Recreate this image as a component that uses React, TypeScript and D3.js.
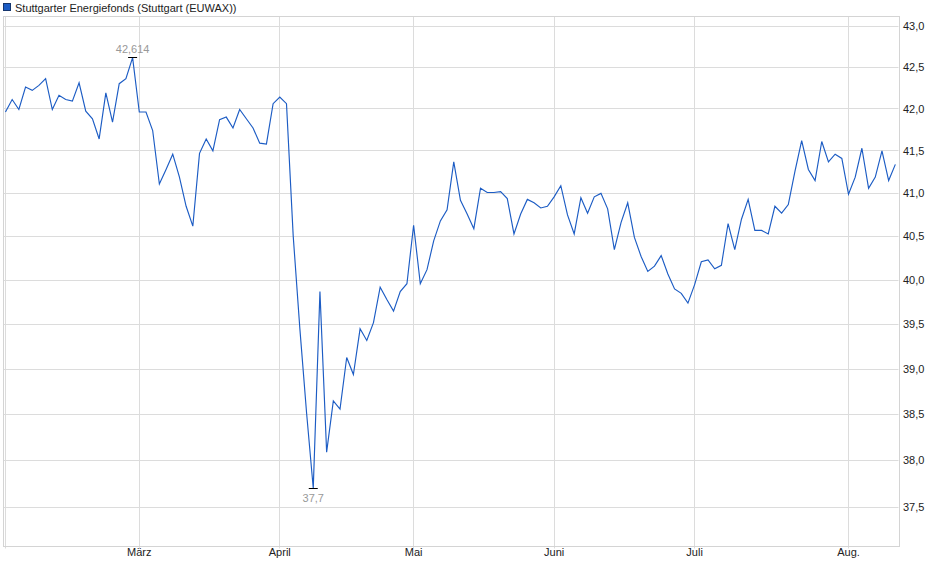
import * as d3 from "d3";

const width = 940;
const height = 579;

// plot frame
const left = 3;
const right = 898.5;
const top = 16;
const bottom = 545.5;

const title = "Stuttgarter Energiefonds (Stuttgart (EUWAX))";

// one value per trading day, Feb 3 .. Aug 12
const prices = [
    41.96, 42.11, 41.99, 42.26, 42.22, 42.28, 42.36, 41.99, 42.16, 42.11,
    42.09, 42.31, 41.97, 41.88, 41.64, 42.19, 41.84, 42.30, 42.36, 42.614,
    41.96, 41.96, 41.74, 41.11, 41.28, 41.46, 41.19, 40.85, 40.62, 41.47,
    41.64, 41.50, 41.87, 41.90, 41.77, 41.99, 41.88, 41.77, 41.59, 41.58,
    42.06, 42.14, 42.06, 40.51, 39.45, 38.52, 37.70, 39.87, 38.09, 38.65,
    38.56, 39.13, 38.94, 39.45, 39.32, 39.52, 39.92, 39.78, 39.65, 39.87,
    39.96, 40.63, 39.96, 40.12, 40.45, 40.68, 40.81, 41.37, 40.92, 40.76,
    40.59, 41.06, 41.01, 41.01, 41.02, 40.94, 40.53, 40.76, 40.93, 40.89,
    40.83, 40.85, 40.96, 41.09, 40.75, 40.53, 40.95, 40.77, 40.96, 41.00,
    40.82, 40.35, 40.66, 40.89, 40.49, 40.27, 40.10, 40.16, 40.28, 40.07,
    39.90, 39.85, 39.74, 39.95, 40.21, 40.23, 40.13, 40.17, 40.65, 40.35,
    40.70, 40.93, 40.57, 40.57, 40.53, 40.85, 40.77, 40.87, 41.26, 41.62,
    41.28, 41.15, 41.61, 41.37, 41.46, 41.41, 40.99, 41.19, 41.53, 41.06,
    41.19, 41.50, 41.15, 41.34,
];

// first trading day of each month (index into prices)
const monthIndex = [0, 20, 41, 61, 82, 103, 126];
const monthLabels = ["", "März", "April", "Mai", "Juni", "Juli", "Aug."];

const yTicks = [37.5, 38, 38.5, 39, 39.5, 40, 40.5, 41, 41.5, 42, 42.5, 43];

const highValue = 42.614;
const highLabel = "42,614";
const lowValue = 37.7;
const lowLabel = "37,7";

const font = "'Liberation Sans', Arial, sans-serif";

export default function App() {
    const x = d3.scaleLinear()
        .domain([-0.37, 133.47])
        .range([left, right]);

    const y = d3.scaleLog()
        .domain([37.5, 43])
        .range([507, 26]);

    const line = d3.line<number>()
        .x((_, i) => x(i))
        .y((d) => y(d));

    const crisp = (v: number) => Math.round(v - 0.5) + 0.5;

    const hiIdx = prices.indexOf(highValue);
    const loIdx = prices.indexOf(lowValue);

    return (
        <svg width={width} height={height}
            style={{ position: "absolute", left: 0, top: 0, background: "white" }}
            fontFamily={font} fontSize={11}>
            {/* legend */}
            <rect x={3.5} y={3.5} width={7} height={7} fill="#1c5cc4" stroke="#16366e" />
            <text x={15} y={12} fill="#222">{title}</text>

            {/* horizontal grid */}
            {yTicks.map((t) => (
                <line key={"h" + t} x1={left} x2={right} y1={crisp(y(t))} y2={crisp(y(t))}
                    stroke="#dcdcdc" />
            ))}
            {/* vertical grid + ticks */}
            {monthIndex.map((m) => (
                <line key={"v" + m} x1={crisp(x(m))} x2={crisp(x(m))} y1={top} y2={bottom + 3}
                    stroke="#dcdcdc" />
            ))}
            {/* frame */}
            <rect x={crisp(left)} y={crisp(top)} width={Math.round(right - left)} height={Math.round(bottom - top)}
                fill="none" stroke="#d4d4d4" />

            {/* y labels */}
            {yTicks.map((t) => (
                <text key={"yl" + t} x={903} y={y(t)} dy="0.35em" fill="#222">
                    {d3.format(".1f")(t).replace(".", ",")}
                </text>
            ))}
            {/* month labels */}
            {monthIndex.map((m, i) => (
                <text key={"ml" + m} x={x(m)} y={556} textAnchor="middle" fill="#222">
                    {monthLabels[i]}
                </text>
            ))}

            {/* price line */}
            <path d={line(prices) ?? ""} fill="none" stroke="#1c5cc4" strokeWidth={1.15}
                strokeLinejoin="miter" />

            {/* high marker */}
            <line x1={x(hiIdx) - 4.5} x2={x(hiIdx) + 4.5} y1={crisp(y(highValue))} y2={crisp(y(highValue))}
                stroke="#000" />
            <text x={x(hiIdx)} y={y(highValue) - 4.5} textAnchor="middle" fill="#999">{highLabel}</text>

            {/* low marker */}
            <line x1={x(loIdx) - 4.5} x2={x(loIdx) + 4.5} y1={crisp(y(lowValue))} y2={crisp(y(lowValue))}
                stroke="#000" />
            <text x={x(loIdx)} y={y(lowValue) + 14} textAnchor="middle" fill="#999">{lowLabel}</text>
        </svg>
    );
}
